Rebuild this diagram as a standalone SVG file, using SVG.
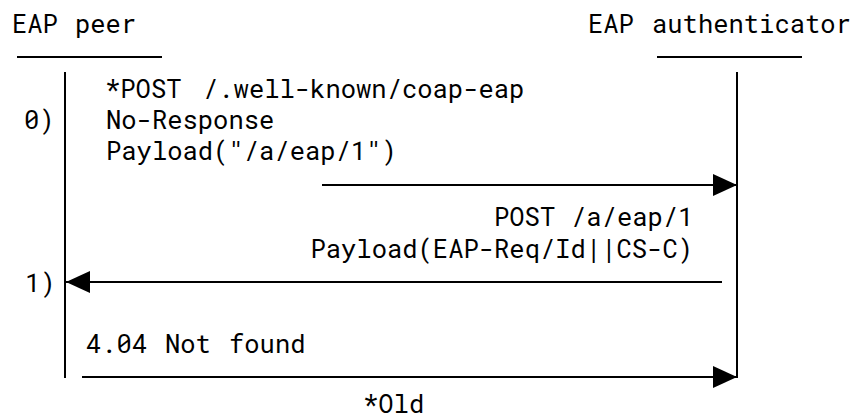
<svg xmlns="http://www.w3.org/2000/svg" width="856" height="419" viewBox="0 0 856 419">
<style>
text{font-family:"Roboto Mono","DejaVu Sans Mono","Liberation Mono",monospace;font-size:25.5px;fill:#000}
.l{stroke:#000;stroke-width:2;fill:none}
</style>
<defs>
<marker id="ah" viewBox="0 0 24 22" markerWidth="24" markerHeight="22" refX="24" refY="11" orient="auto" markerUnits="userSpaceOnUse">
<path d="M0,0 L24,11 L0,22 Z" fill="#000"/>
</marker>
</defs>
<rect width="856" height="419" fill="#fff"/>
<g id="peer">
<text y="33"><tspan x="12">EAP</tspan><tspan x="75">peer</tspan></text>
<line class="l" x1="17" y1="57" x2="162" y2="57"/>
<line class="l" x1="65" y1="72" x2="65" y2="378"/>
</g>
<g id="authenticator">
<text y="33"><tspan x="588">EAP</tspan><tspan x="652">authenticator</tspan></text>
<line class="l" x1="657" y1="57" x2="802" y2="57"/>
<line class="l" x1="737" y1="72" x2="737" y2="378"/>
</g>
<g id="labels">
<text y="98"><tspan x="105">*POST</tspan><tspan x="203">/.well-known/coap-eap</tspan></text>
<text x="24" y="129">0)</text>
<text x="106" y="129">No-Response</text>
<text x="106" y="160">Payload("/a/eap/1")</text>
<text y="226"><tspan x="494">POST</tspan><tspan x="571">/a/eap/1</tspan></text>
<text x="693" y="258" text-anchor="end">Payload(EAP-Req/Id||CS-C)</text>
<text x="25" y="292">1)</text>
<text y="353"><tspan x="86">4.04</tspan><tspan x="165">Not</tspan><tspan x="229">found</tspan></text>
<text x="363" y="413">*Old</text>
</g>
<g id="connectors">
<line class="l" x1="322" y1="185" x2="737" y2="185" marker-end="url(#ah)"/>
<line class="l" x1="722" y1="282" x2="66" y2="282" marker-end="url(#ah)"/>
<line class="l" x1="82" y1="377" x2="737" y2="377" marker-end="url(#ah)"/>
</g>
</svg>
